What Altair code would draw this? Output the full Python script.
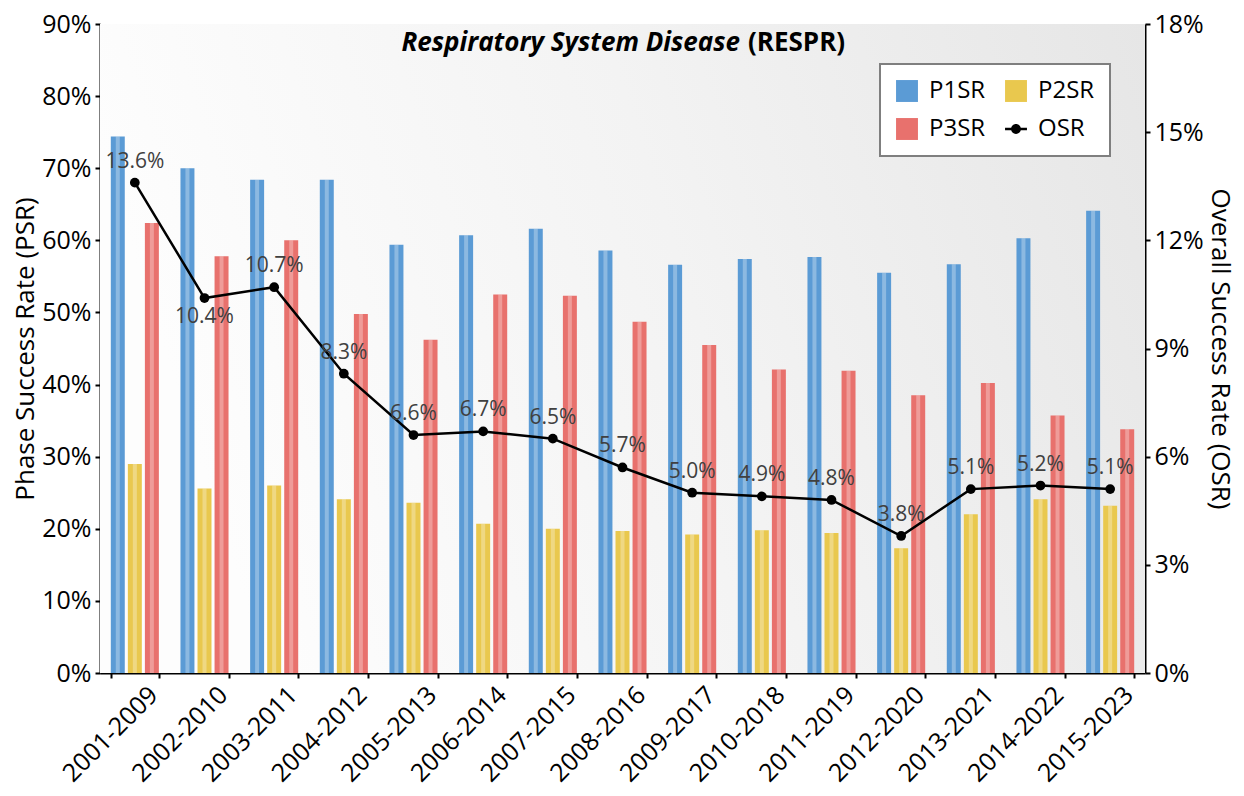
import altair as alt
import pandas as pd

periods = ["2001-2009", "2002-2010", "2003-2011", "2004-2012", "2005-2013",
           "2006-2014", "2007-2015", "2008-2016", "2009-2017", "2010-2018",
           "2011-2019", "2012-2020", "2013-2021", "2014-2022", "2015-2023"]
p1sr = [74.4, 70.0, 68.4, 68.4, 59.4, 60.7, 61.6, 58.6, 56.6, 57.4, 57.7, 55.5, 56.7, 60.3, 64.1]
p2sr = [29.0, 25.6, 26.0, 24.1, 23.6, 20.7, 20.0, 19.7, 19.2, 19.8, 19.4, 17.3, 22.0, 24.1, 23.2]
p3sr = [62.4, 57.8, 60.0, 49.8, 46.2, 52.5, 52.3, 48.7, 45.5, 42.1, 41.9, 38.5, 40.2, 35.7, 33.8]
osr = [13.6, 10.4, 10.7, 8.3, 6.6, 6.7, 6.5, 5.7, 5.0, 4.9, 4.8, 3.8, 5.1, 5.2, 5.1]

# legend is filled column by column, so P3SR comes second to sit under P1SR
legend_order = ["P1SR", "P3SR", "P2SR", "OSR"]
legend_colors = ["#5b9bd5", "#e8716d", "#e9c84e", "#000000"]
bar_order = ["P1SR", "P2SR", "P3SR"]
psr_ticks = [0, 0.1, 0.2, 0.3, 0.4, 0.5, 0.6, 0.7, 0.8, 0.9]
osr_ticks = [0, 0.03, 0.06, 0.09, 0.12, 0.15, 0.18]
title_main = "Respiratory System Disease"
title_abbr = "(RESPR)"

FONT = "Open Sans"
OSR_SYMBOL = ("M-1,-0.12L1,-0.12L1,0.12L-1,0.12Z "
              "M-0.45,0A0.45,0.45 0 1,1 0.45,0A0.45,0.45 0 1,1 -0.45,0Z")

bars_df = pd.DataFrame({
    "period": periods * 3,
    "series": ["P1SR"] * len(periods) + ["P2SR"] * len(periods) + ["P3SR"] * len(periods),
    "value": [v / 100 for v in p1sr + p2sr + p3sr],
})
osr_df = pd.DataFrame({
    "period": periods,
    "series": ["OSR"] * len(periods),
    "osr": [v / 100 for v in osr],
    "label": [f"{v:.1f}%" for v in osr],
})

bg = alt.Chart(pd.DataFrame({"k": [0]})).mark_rect(
    color=alt.LinearGradient(
        gradient="linear",
        stops=[alt.GradientStop(color="#fdfdfd", offset=0),
               alt.GradientStop(color="#f3f3f3", offset=0.5),
               alt.GradientStop(color="#e6e6e6", offset=1)],
        x1=0, x2=1, y1=0.2, y2=0),
).encode(x=alt.value(0), x2=alt.value("width"), y=alt.value(0), y2=alt.value("height"))

x_enc = alt.X(
    "period:N", sort=periods,
    scale=alt.Scale(paddingInner=0.31, paddingOuter=0.155),
    axis=alt.Axis(title=None, labelAngle=-45, tickBand="extent", labelFontSize=25,
                  labelPadding=4, labelOffset=10),
)
xoff = alt.XOffset("series:N", sort=bar_order,
                   scale=alt.Scale(paddingInner=0.18, paddingOuter=0))

color_enc = alt.Color(
    "series:N",
    scale=alt.Scale(domain=legend_order, range=legend_colors),
    legend=alt.Legend(
        title=None, orient="none", legendX=780, legendY=40, columns=2,
        symbolSize=480, labelFontSize=24, labelFont=FONT, labelColor="black",
        fillColor="white", strokeColor="#7f7f7f", padding=15,
        columnPadding=18, rowPadding=14, labelOffset=10,
        symbolType={"expr": f"datum.value === 'OSR' ? '{OSR_SYMBOL}' : 'square'"},
        symbolStrokeWidth=0, symbolOpacity=1,
    ),
)

y_left = alt.Y(
    "value:Q", scale=alt.Scale(domain=[0, 0.9], nice=False),
    axis=alt.Axis(values=psr_ticks, format=".0%", title="Phase Success Rate (PSR)",
                  orient="left", grid=False),
)

bars = alt.Chart(bars_df).mark_bar().encode(
    x=x_enc, xOffset=xoff, y=y_left, color=color_enc,
)
shine = alt.Chart(bars_df).mark_bar(color="white", opacity=0.3, width=4).encode(
    x=x_enc, xOffset=xoff, y=alt.Y("value:Q"),
)
left = alt.layer(bars, shine)

y_right = alt.Y(
    "osr:Q", scale=alt.Scale(domain=[0, 0.18], nice=False),
    axis=alt.Axis(values=osr_ticks, format=".0%", title="Overall Success Rate (OSR)",
                  orient="right", grid=False),
)
base_r = alt.Chart(osr_df).encode(x=alt.X("period:N", sort=periods), y=y_right)
line = base_r.mark_line(strokeWidth=2.5).encode(color=alt.Color("series:N"))
points = base_r.mark_point(filled=True, size=95, opacity=1).encode(color=alt.Color("series:N"))
labels_above = base_r.transform_filter(alt.datum.period != "2002-2010").mark_text(
    dy=-21, fontSize=21, font=FONT, color="#404040").encode(text="label:N")
labels_below = base_r.transform_filter(alt.datum.period == "2002-2010").mark_text(
    dy=19, fontSize=21, font=FONT, color="#404040").encode(text="label:N")
right = alt.layer(line, points, labels_above, labels_below)

t1 = alt.Chart(pd.DataFrame({"t": [title_main]})).mark_text(
    align="right", baseline="middle", font=FONT, fontSize=26, fontWeight="bold",
    fontStyle="italic", color="black").encode(
    text="t:N", x=alt.value(640), y=alt.value(19))
t2 = alt.Chart(pd.DataFrame({"t": [title_abbr]})).mark_text(
    align="left", baseline="middle", font=FONT, fontSize=26, fontWeight="bold",
    color="black").encode(
    text="t:N", x=alt.value(648), y=alt.value(19))

chart = alt.layer(bg, left, right, t1, t2).resolve_scale(y="independent").properties(
    width=1045, height=649,
    padding={"left": 4, "top": 4, "right": 2, "bottom": 2},
).configure_view(
    stroke=None,
).configure_axis(
    domainColor="black", domainWidth=2, tickColor="black", tickWidth=2, tickSize=5,
    labelColor="black", labelFont=FONT, labelFontSize=25,
    titleFont=FONT, titleFontSize=26, titleFontWeight="normal", titleColor="black",
    labelPadding=4, titlePadding=3,
).configure_legend(strokeWidth=2)

chart.save("out.html", embed_options={"renderer": "svg", "actions": False})
